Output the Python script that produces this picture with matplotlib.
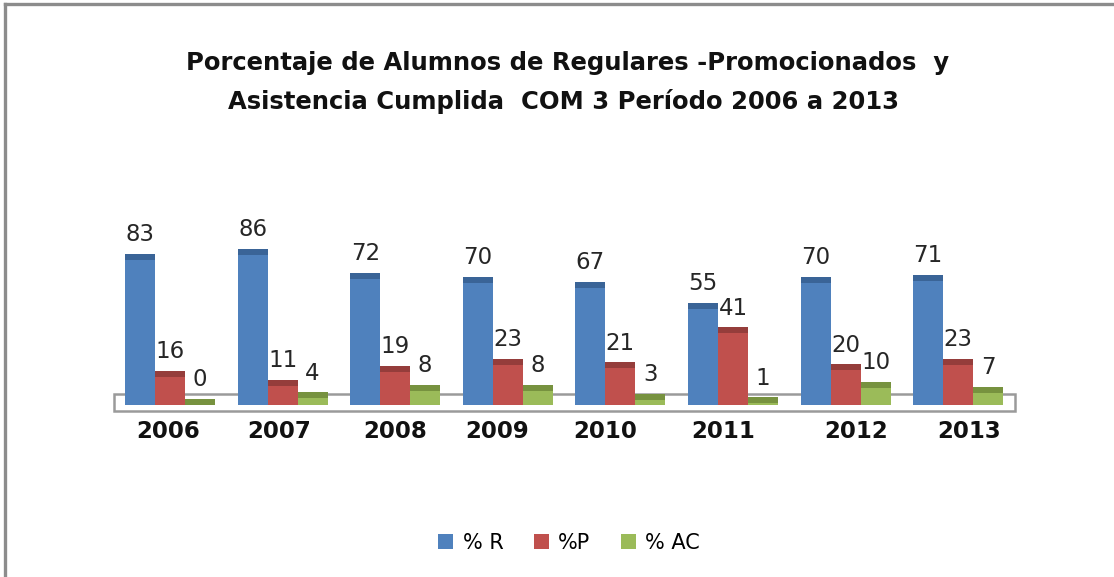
import matplotlib
matplotlib.use("Agg")
import matplotlib.pyplot as plt
import numpy as np
from matplotlib.patches import Rectangle, Patch
from matplotlib.lines import Line2D

# ---------------- data ----------------
years = ["2006", "2007", "2008", "2009", "2010", "2011", "2012", "2013"]
series_names = ["% R", "%P", "% AC"]
pct_r = [83, 86, 72, 70, 67, 55, 70, 71]
pct_p = [16, 11, 19, 23, 21, 41, 20, 23]
pct_ac = [0, 4, 8, 8, 3, 1, 10, 7]
title_lines = ["Porcentaje de Alumnos de Regulares -Promocionados  y",
               "Asistencia Cumplida  COM 3 Período 2006 a 2013"]

# ---------------- style ----------------
face_colors = ["#4F81BD", "#C0504D", "#9BBB59"]
cap_colors = ["#3A6497", "#953D3B", "#77923F"]
W, H, DPI = 1114, 577, 100
fig = plt.figure(figsize=(W / DPI, H / DPI), dpi=DPI)
fig.patch.set_facecolor("white")

# axes placement in pixels: y=0 at 405px, 1.75 px per unit
px_per_unit = 1.75
y_lo, y_hi = -10, 110
ax_top_px = 405 - y_hi * px_per_unit
ax_bot_px = 405 - y_lo * px_per_unit
ax_left_px, ax_right_px = 113.7, 1014.5
ax = fig.add_axes([ax_left_px / W, 1 - ax_bot_px / H,
                   (ax_right_px - ax_left_px) / W, (ax_bot_px - ax_top_px) / H])
ax.set_xlim(-0.5, len(years) - 0.5)
ax.set_ylim(y_lo, y_hi)
ax.axis("off")

cap = 6 / px_per_unit  # 3D top-face depth in data units
bw = 30 / 112.6

# floor box
ax.add_patch(Rectangle((-0.5, -3.4), len(years), 9.7, facecolor="white",
                       edgecolor="#9A9A9A", linewidth=1.8, zorder=1, clip_on=False))

x = np.arange(len(years))
all_series = [pct_r, pct_p, pct_ac]
for k, vals in enumerate(all_series):
    xs = x + (k - 1) * bw
    ax.bar(xs, vals, width=bw, color=face_colors[k], zorder=3, linewidth=0)
    ax.bar(xs, [cap] * len(vals), bottom=vals, width=bw, color=cap_colors[k],
           zorder=3, linewidth=0)
    for xi, v in zip(xs, vals):
        ax.annotate(str(v), (xi, v + cap), xytext=(0, 19 * 72 / DPI),
                    textcoords="offset points", ha="center", va="center",
                    fontsize=16.5, color="#262626", family="DejaVu Sans",
                    zorder=5)

# year labels (small per-label nudges as in original)
year_dx_px = [-2, -3, 0, -11, -15, -10, 11, 11]
for xi, yr, dx in zip(x, years, year_dx_px):
    ax.annotate(yr, (xi, 0), xytext=(dx * 72 / DPI, -27 * 72 / DPI),
                textcoords="offset points", ha="center", va="center",
                fontsize=16.5, fontweight="bold", family="DejaVu Sans",
                color="#111111", annotation_clip=False)

# title
fig.text(568 / W, 1 - 63 / H, title_lines[0], ha="center", va="center",
         fontsize=17.5, fontweight="bold", family="DejaVu Sans", color="#111111")
fig.text(563 / W, 1 - 101 / H, title_lines[1], ha="center", va="center",
         fontsize=17.5, fontweight="bold", family="DejaVu Sans", color="#111111")

# legend
handles = [Patch(facecolor=c, edgecolor="none") for c in face_colors]
fig.legend(handles, series_names, loc="center", bbox_to_anchor=(569 / W, 1 - 543 / H),
           ncol=3, frameon=False, prop={"family": "DejaVu Sans", "size": 15},
           handlelength=0.72, handleheight=0.72, handletextpad=0.45,
           columnspacing=1.45, borderaxespad=0)

# outer chart frame (top and left visible)
fig.add_artist(Line2D([5 / W, 5 / W], [0, 1 - 4 / H], transform=fig.transFigure,
                      color="#8C8C8C", linewidth=2.4))
fig.add_artist(Line2D([5 / W, 1], [1 - 4 / H, 1 - 4 / H], transform=fig.transFigure,
                      color="#8C8C8C", linewidth=2.4))

fig.savefig("out.png", dpi=DPI, facecolor="white")
